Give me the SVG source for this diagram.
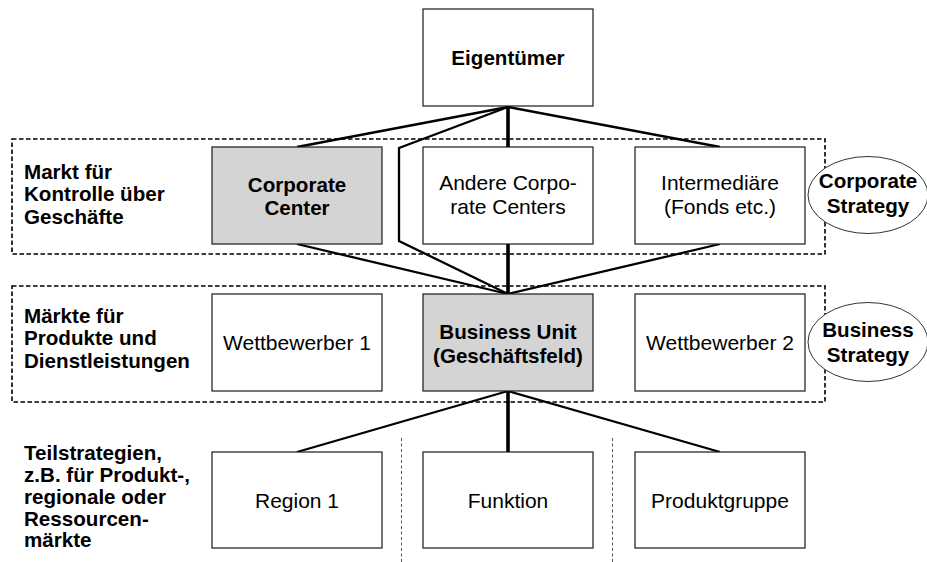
<svg xmlns="http://www.w3.org/2000/svg" width="927" height="562" viewBox="0 0 927 562">
<style>
  .box { fill: #ffffff; stroke: #1a1a1a; stroke-width: 1.2; }
  .grey { fill: #d4d4d4; }
  .zone { fill: none; stroke: #000; stroke-width: 1.6; stroke-dasharray: 4.5 2.5; }
  .sep { fill: none; stroke: #555; stroke-width: 1; stroke-dasharray: 3 2.5; }
  .ell { fill: #ffffff; stroke: #333; stroke-width: 1; }
  .ln { fill: none; stroke: #000; stroke-width: 2.3; stroke-linejoin: miter; }
  .thick { fill: none; stroke: #000; stroke-width: 3.6; }
  text { font-family: "Liberation Sans", Arial, sans-serif; font-size: 21px; fill: #000; }
  .b { font-weight: bold; font-size: 20.6px; }
  .c { text-anchor: middle; }
</style>
<rect width="927" height="562" fill="#ffffff"/>
<g id="zones">
  <rect class="zone" x="12" y="139" width="813" height="115"/>
  <rect class="zone" x="12" y="286" width="813" height="116"/>
  <line class="sep" x1="401.5" y1="438" x2="401.5" y2="562"/>
  <line class="sep" x1="612.5" y1="438" x2="612.5" y2="562"/>
</g>
<g id="connectors">
  <line class="thick" x1="508" y1="107" x2="508" y2="294"/>
  <line class="thick" x1="508" y1="391" x2="508" y2="452"/>
  <path class="ln" d="M508,107 L399,148 L399,241 L508,294"/>
  <path class="ln" d="M508,107 L297,147"/>
  <path class="ln" d="M508,107 L720,147"/>
  <path class="ln" d="M297,244 L508,294"/>
  <path class="ln" d="M720,244 L508,294"/>
  <path class="ln" d="M508,391 L297,452"/>
  <path class="ln" d="M508,391 L720,452"/>
</g>
<g id="labels">
  <text class="b" x="24"><tspan x="24" y="178.5">Markt für</tspan><tspan x="24" y="201">Kontrolle über</tspan><tspan x="24" y="223.5">Geschäfte</tspan></text>
  <text class="b" x="24"><tspan x="24" y="322.5">Märkte für</tspan><tspan x="24" y="345">Produkte und</tspan><tspan x="24" y="367.5">Dienstleistungen</tspan></text>
  <text class="b" x="24"><tspan x="24" y="459.5">Teilstrategien,</tspan><tspan x="24" y="481.5">z.B. für Produkt-,</tspan><tspan x="24" y="503.5">regionale oder</tspan><tspan x="24" y="525.5">Ressourcen-</tspan><tspan x="24" y="547">märkte</tspan></text>
</g>
<g id="eigentuemer">
  <rect class="box" x="423" y="9" width="170" height="97"/>
  <text class="b c" x="508" y="65">Eigentümer</text>
</g>
<g id="corporate-center">
  <rect class="box grey" x="212" y="147" width="170" height="97"/>
  <text class="b c"><tspan x="297" y="191.5">Corporate</tspan><tspan x="297" y="215">Center</tspan></text>
</g>
<g id="andere">
  <rect class="box" x="423" y="147" width="170" height="97"/>
  <text class="c"><tspan x="508" y="189.5">Andere Corpo-</tspan><tspan x="508" y="214">rate Centers</tspan></text>
</g>
<g id="intermediaere">
  <rect class="box" x="635" y="147" width="170" height="97"/>
  <text class="c"><tspan x="720" y="189.5">Intermediäre</tspan><tspan x="720" y="214">(Fonds etc.)</tspan></text>
</g>
<g id="corporate-strategy">
  <ellipse class="ell" cx="868" cy="195" rx="60" ry="38.5"/>
  <text class="b c"><tspan x="868" y="188">Corporate</tspan><tspan x="868" y="212.5">Strategy</tspan></text>
</g>
<g id="wettbewerber1">
  <rect class="box" x="212" y="294" width="170" height="97"/>
  <text class="c" x="297" y="350">Wettbewerber 1</text>
</g>
<g id="business-unit">
  <rect class="box grey" x="423" y="294" width="170" height="97"/>
  <text class="b c"><tspan x="508" y="338.5">Business Unit</tspan><tspan x="508" y="362.5">(Geschäftsfeld)</tspan></text>
</g>
<g id="wettbewerber2">
  <rect class="box" x="635" y="294" width="170" height="97"/>
  <text class="c" x="720" y="350">Wettbewerber 2</text>
</g>
<g id="business-strategy">
  <ellipse class="ell" cx="868" cy="342" rx="60" ry="39.5"/>
  <text class="b c"><tspan x="868" y="336.5">Business</tspan><tspan x="868" y="361.5">Strategy</tspan></text>
</g>
<g id="region1">
  <rect class="box" x="212" y="452" width="170" height="96"/>
  <text class="c" x="297" y="508">Region 1</text>
</g>
<g id="funktion">
  <rect class="box" x="423" y="452" width="170" height="96"/>
  <text class="c" x="508" y="508">Funktion</text>
</g>
<g id="produktgruppe">
  <rect class="box" x="635" y="452" width="170" height="96"/>
  <text class="c" x="720" y="508">Produktgruppe</text>
</g>
</svg>
